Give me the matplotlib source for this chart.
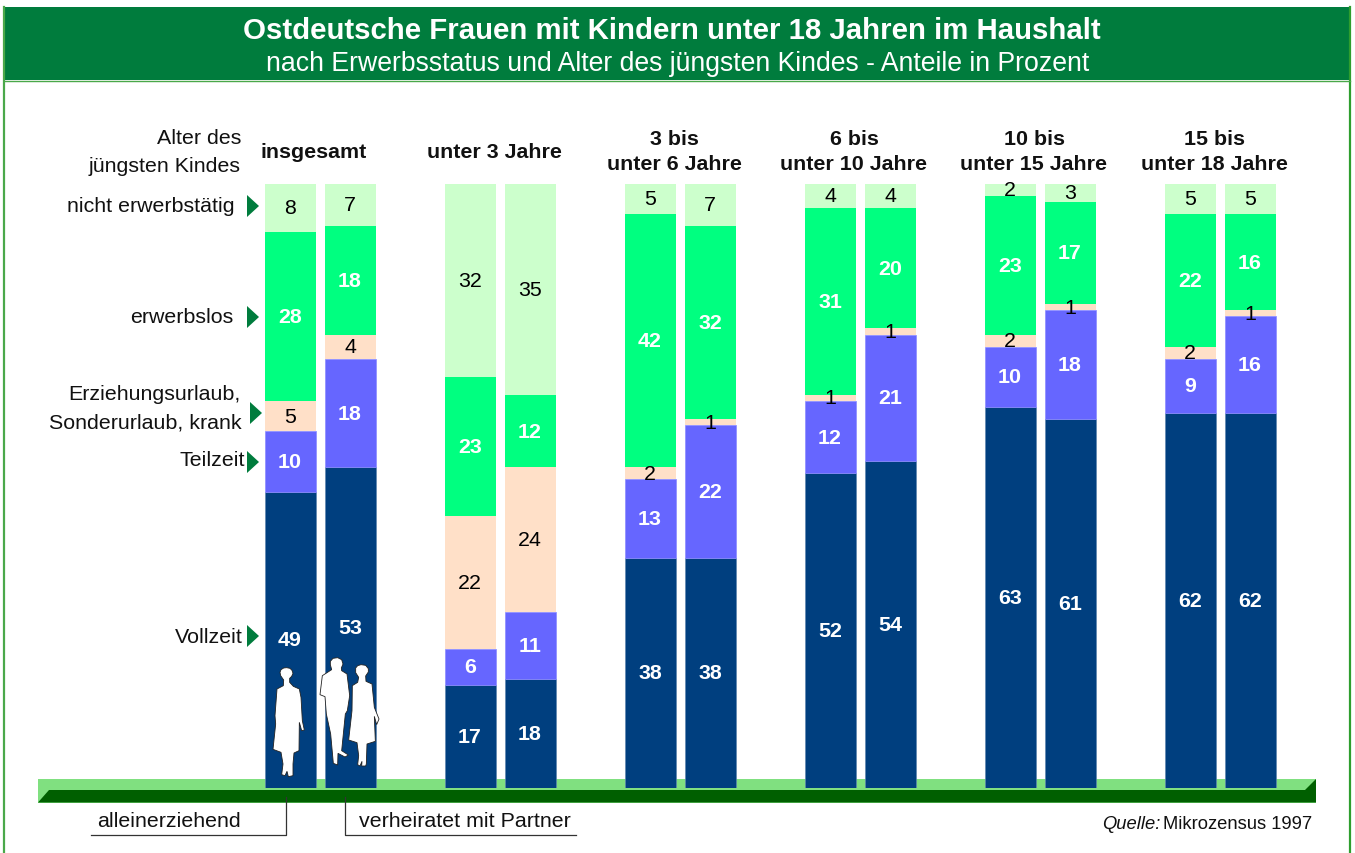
import numpy as np
import matplotlib
matplotlib.use("Agg")
import matplotlib.pyplot as plt
from matplotlib.patches import Polygon, Rectangle

plt.rcParams['font.family'] = ['Liberation Sans', 'DejaVu Sans']

# Anteile in Prozent, je Altersgruppe: alleinerziehend / verheiratet
groups = ["insgesamt", "unter 3 Jahre", "3 bis\nunter 6 Jahre", "6 bis\nunter 10 Jahre",
          "10 bis\nunter 15 Jahre", "15 bis\nunter 18 Jahre"]
vollzeit_a = [49, 17, 38, 52, 63, 62]
teilzeit_a = [10, 6, 13, 12, 10, 9]
urlaub_a = [5, 22, 2, 1, 2, 2]
erwerbslos_a = [28, 23, 42, 31, 23, 22]
nicht_a = [8, 32, 5, 4, 2, 5]
vollzeit_v = [53, 18, 38, 54, 61, 62]
teilzeit_v = [18, 11, 22, 21, 18, 16]
urlaub_v = [4, 24, 1, 1, 1, 1]
erwerbslos_v = [18, 12, 32, 20, 17, 16]
nicht_v = [7, 35, 7, 4, 3, 5]

colors = ['#003f7f', '#6666ff', '#ffe0c8', '#00ff80', '#ccffcc']
edges = ['#5f86b0', '#8a8aff', 'none', 'none', 'none']
txt_colors = ['white', 'white', 'black', 'white', 'black']
txt_weights = ['bold', 'bold', 'normal', 'bold', 'normal']

W, H = 1355, 854
fig = plt.figure(figsize=(W / 100, H / 100), dpi=100, facecolor='white')

# Hintergrund in Pixelkoordinaten
bg = fig.add_axes([0, 0, 1, 1])
bg.set_xlim(0, W)
bg.set_ylim(H, 0)
bg.axis('off')

green = '#007c3d'
bg.add_patch(Rectangle((4, 8), 1346, 73, fc=green, ec='none'))
bg.plot([4, 4], [8, H], color='#4aa84a', lw=1.6)
bg.plot([1350, 1350], [8, H], color='#2e9e2e', lw=1.6)
bg.plot([4, 1350], [81.5, 81.5], color='#4aa84a', lw=1)

bg.text(672, 31, "Ostdeutsche Frauen mit Kindern unter 18 Jahren im Haushalt", color='white',
        fontsize=21.2, fontweight='bold', ha='center', va='center')
bg.text(678, 64, "nach Erwerbsstatus und Alter des jüngsten Kindes - Anteile in Prozent", color='white',
        fontsize=19.2, ha='center', va='center')

# Boden
bg.add_patch(Rectangle((38, 780), 1278, 23.5, fc='#80e080', ec='none'))
bg.add_patch(Polygon([(38, 803.5), (49, 791), (1305, 791), (1316, 780), (1316, 803.5)], fc='#005f00', ec='none'))

# Beschriftung links
fs = 15.4
left_labels = [("Alter des", 241, 138), ("jüngsten Kindes", 241, 166), ("nicht erwerbstätig", 235, 206),
               ("erwerbslos", 233, 318), ("Erziehungsurlaub,", 240, 395), ("Sonderurlaub, krank", 242, 423),
               ("Teilzeit", 245, 461), ("Vollzeit", 243, 638)]
for s, x, y in left_labels:
    bg.text(x, y, s, fontsize=fs, ha='right', va='center', color='#111111')

arrows = [(247, 207), (247, 318), (250, 414), (247, 463), (247, 637)]
for x, y in arrows:
    bg.add_patch(Polygon([(x, y - 11), (x + 12, y), (x, y + 11)], fc=green, ec='none'))

# Legende unten
bg.plot([286, 286, 91], [798, 836, 836], color='#333333', lw=0.9)
bg.plot([345, 345, 576], [798, 836, 836], color='#333333', lw=0.9)
bg.text(97, 822, "alleinerziehend", fontsize=fs, ha='left', va='center', color='#111111')
bg.text(359, 822, "verheiratet mit Partner", fontsize=fs, ha='left', va='center', color='#111111')
bg.text(1312, 825, "Mikrozensus 1997", fontsize=13.2, ha='right', va='center', color='#111111')
bg.text(1160, 825, "Quelle:", fontsize=13.2, style='italic', ha='right', va='center', color='#111111')

# Balken
ax = fig.add_axes([0, (H - 788.5) / H, 1, 604 / H])
ax.patch.set_alpha(0)
ax.axis('off')
ax.set_xlim((0 - 320) / 180, (W - 320) / 180)
ax.set_ylim(0, 100)

x = np.arange(len(groups))
stacks = [(x - 1 / 6, [vollzeit_a, teilzeit_a, urlaub_a, erwerbslos_a, nicht_a]),
          (x + 1 / 6, [vollzeit_v, teilzeit_v, urlaub_v, erwerbslos_v, nicht_v])]
for pos, series in stacks:
    bottom = np.zeros(len(groups))
    for k, vals in enumerate(series):
        vals = np.array(vals)
        ax.bar(pos, vals, 51 / 180, bottom=bottom, color=colors[k], edgecolor=edges[k], linewidth=0.5)
        for p, v, b in zip(pos, vals, bottom):
            ax.text(p, b + v / 2, str(v), color=txt_colors[k], fontweight=txt_weights[k],
                    fontsize=15.4, ha='center', va='center')
        bottom = bottom + vals

for i, g in enumerate(groups):
    bg.text(320 + 180 * i - 6, 152, g, fontsize=15.4, fontweight='bold', ha='center', va='center',
            linespacing=1.45, color='#111111')

# Silhouetten (Koordinaten aus der Vorlage)
woman1 = [(45, 55), (48, 47), (56, 42), (65, 41), (75, 43), (81, 49), (84, 58), (80, 67), (74, 73),
          (74, 85), (85, 97), (103, 105), (108, 130), (112, 200), (118, 228), (110, 230), (103, 205),
          (102, 290), (87, 297), (84, 330), (84, 365), (70, 368), (66, 352), (60, 365), (50, 362),
          (54, 330), (48, 295), (24, 286), (32, 210), (30, 185), (36, 105), (55, 95), (56, 78), (47, 65)]
man = [(196, 22), (204, 13), (218, 11), (230, 17), (234, 30), (229, 42), (230, 50), (246, 60),
       (254, 125), (247, 170), (241, 180), (230, 290), (250, 303), (240, 309), (219, 298), (218, 333),
       (205, 328), (197, 240), (184, 180), (180, 128), (165, 122), (172, 65), (200, 47), (196, 32)]
woman2 = [(272, 42), (278, 35), (288, 32), (302, 34), (310, 44), (310, 54), (302, 66), (303, 82),
          (321, 90), (328, 160), (342, 195), (335, 212), (328, 187), (331, 262), (306, 270), (304, 330),
          (302, 336), (290, 336), (291, 322), (285, 336), (278, 332), (281, 305), (276, 266), (251, 258),
          (261, 170), (262, 95), (278, 85), (281, 70), (272, 56)]
for shape in [woman1, man, woman2]:
    pts = [(265 + a / 3, 655 + b / 3) for a, b in shape]
    ax.add_patch(Polygon(pts, fc='white', ec='#222222', lw=0.6, transform=bg.transData, clip_on=False))

fig.savefig('out.png', dpi=100)
